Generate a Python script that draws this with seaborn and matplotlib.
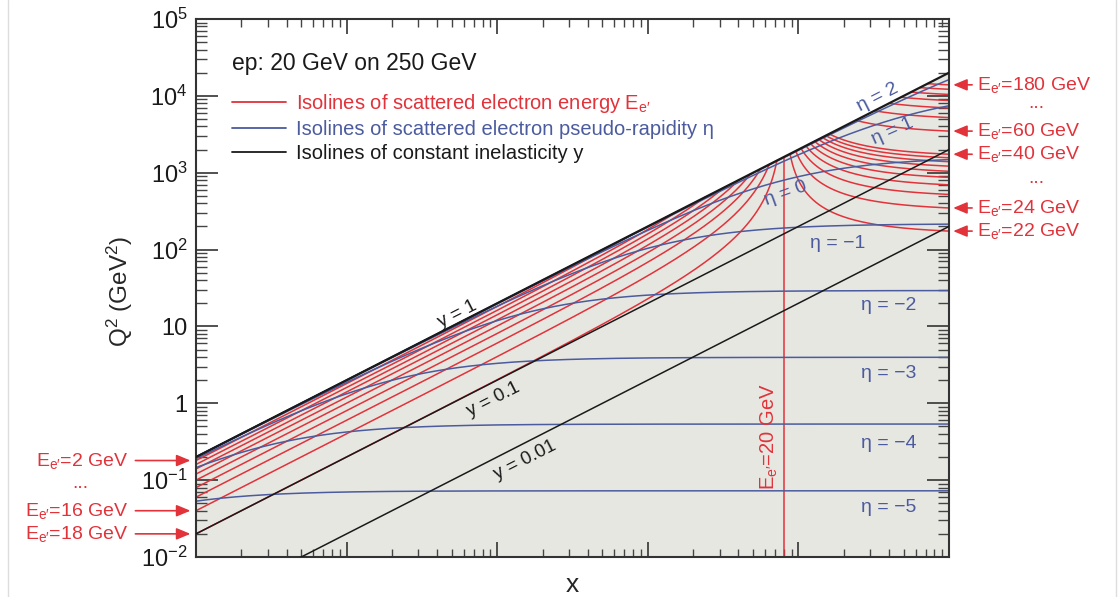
import numpy as np
import pandas as pd
import matplotlib
matplotlib.use("Agg")
import matplotlib.pyplot as plt
import seaborn as sns
from matplotlib.lines import Line2D

# ---- data ----
beam_e = 20.0          # electron beam energy (GeV)
beam_p = 250.0         # proton beam energy (GeV)
x_range = [1e-5, 1.0]
q2_range = [1e-2, 1e5]
e_scat_low = [2, 4, 6, 8, 10, 12, 14, 16, 18]                 # GeV, below beam energy
e_scat_high = [22, 24, 26, 28, 30, 32, 34, 36, 38, 40,
               60, 80, 100, 120, 140, 160, 180]                # GeV, above beam energy
e_scat_mid = 20                                                # vertical isoline
eta_values = [2, 1, 0, -1, -2, -3, -4, -5]
y_values = [1.0, 0.1, 0.01]
y_tick_vals = [1e-2, 1e-1, 1, 10, 1e2, 1e3, 1e4, 1e5]
y_tick_labels = ["10$^{-2}$", "10$^{-1}$", "1", "10", "10$^{2}$", "10$^{3}$", "10$^{4}$", "10$^{5}$"]
right_labels = [180, 60, 40, 24, 22]
left_labels = [2, 16, 18]

RED = "#e2323a"
BLUE = "#4b5b9e"
BLACK = "#1a1a1a"
SHADE = "#e7e7e2"

sns.set_style("ticks")
plt.rcParams["font.family"] = ["Liberation Sans", "DejaVu Sans"]
plt.rcParams["mathtext.fontset"] = "custom"
plt.rcParams["mathtext.rm"] = "Liberation Sans"
plt.rcParams["mathtext.it"] = "Liberation Sans"
plt.rcParams["mathtext.default"] = "regular"

s = 4 * beam_e * beam_p

fig = plt.figure(figsize=(11.2, 5.97), dpi=100)
L, R, T, B = 196, 949, 19, 557
W, H = 1120, 597
ax = fig.add_axes([L / W, 1 - B / H, (R - L) / W, (B - T) / H])
ax.set_xscale("log")
ax.set_yscale("log")
ax.set_xlim(*x_range)
ax.set_ylim(*q2_range)

def pix(px, py):
    return ((px - L) / (R - L), (B - py) / (B - T))

# shaded kinematic region (below y = 1)
xx = np.geomspace(x_range[0], x_range[1], 400)
ax.fill_between(xx, q2_range[0], s * xx, color=SHADE, lw=0, zorder=0)

def line(x, q, color, lw=1.1, z=2):
    sns.lineplot(x=x, y=q, ax=ax, color=color, lw=lw, estimator=None,
                 sort=False, legend=False, zorder=z)

# electron-energy isolines
for ep in e_scat_low:
    x = np.geomspace(x_range[0], ep / beam_p, 800)
    q = 4 * beam_e * (beam_e - ep) / (beam_e / (beam_p * x) - 1)
    q[-1] = 4 * beam_e * ep
    line(x, q, RED)
for ep in e_scat_high:
    x = np.geomspace(ep / beam_p, x_range[1], 800)
    with np.errstate(divide="ignore"):
        q = 4 * beam_e * (ep - beam_e) / (1 - beam_e / (beam_p * x))
    q[0] = 4 * beam_e * ep
    line(x, q, RED)
xv = beam_e / beam_p
line(np.array([xv, xv]), np.array([q2_range[0], 4 * beam_e * e_scat_mid]), RED)

# pseudo-rapidity isolines
for eta in eta_values:
    x = np.geomspace(x_range[0], x_range[1], 800)
    A = 4 * beam_e ** 2 * np.exp(2 * eta)
    q = A / (1 + A / (s * x))
    line(x, q, BLUE)

# inelasticity isolines
for yv in y_values:
    x = np.geomspace(x_range[0], x_range[1], 50)
    line(x, s * x * yv, BLACK, lw=1.6 if yv == 1 else 1.1, z=3)

# axes styling
for sp in ax.spines.values():
    sp.set_linewidth(1.5)
    sp.set_color("#333333")
ax.set_yticks(y_tick_vals)
ax.set_yticklabels(y_tick_labels, fontsize=17)
ax.tick_params(axis="y", which="major", direction="in", length=16, width=1.2,
               left=True, right=True, pad=6, colors="#333333", labelcolor="#1a1a1a")
ax.tick_params(axis="y", which="minor", direction="in", length=8, width=1.0,
               left=True, right=True, colors="#444444")
ax.tick_params(axis="x", which="major", direction="in", length=11, width=1.2,
               bottom=True, top=True, labelbottom=False, colors="#333333")
ax.tick_params(axis="x", which="minor", direction="in", length=6, width=1.0,
               bottom=True, top=True, labelbottom=False, colors="#444444")
ax.yaxis.set_minor_locator(matplotlib.ticker.LogLocator(base=10, subs=np.arange(2, 10), numticks=20))
ax.xaxis.set_minor_locator(matplotlib.ticker.LogLocator(base=10, subs=np.arange(2, 10), numticks=20))
ax.yaxis.set_minor_formatter(matplotlib.ticker.NullFormatter())
ax.set_xlabel("x", fontsize=19)
ax.xaxis.set_label_coords(*pix(572, 585))
ax.xaxis.label.set_va("center")
ax.set_ylabel("Q$^{2}$ (GeV$^{2}$)", fontsize=17.5)
ax.yaxis.set_label_coords(*pix(120, 291))
ax.yaxis.label.set_va("center")

# legend
handles = [Line2D([], [], color=RED, lw=1.3), Line2D([], [], color=BLUE, lw=1.3),
           Line2D([], [], color=BLACK, lw=1.3)]
labels = ["Isolines of scattered electron energy E$_{e\u2032}$",
          "Isolines of scattered electron pseudo-rapidity \u03b7",
          "Isolines of constant inelasticity y"]
leg = ax.legend(handles, labels, title="ep: 20 GeV on 250 GeV", loc="upper left",
                bbox_to_anchor=pix(232, 52), frameon=False, fontsize=14.5,
                title_fontsize=16.5, alignment="left", labelcolor="linecolor",
                handlelength=2.7, handletextpad=0.5, labelspacing=0.25,
                borderpad=0, borderaxespad=0)
leg.get_title().set_color(BLACK)
leg._legend_box.sep = 12

# line labels
def lab(txt, px, py, rot, color, size=14):
    fx, fy = pix(px, py)
    ax.text(fx, fy, txt, transform=ax.transAxes, rotation=rot, color=color,
            fontsize=size, ha="center", va="center", rotation_mode="anchor", zorder=5)

lab("y = 1", 457, 314, 27, BLACK, 13.5)
lab("y = 0.1", 493, 400, 27, BLACK, 13.5)
lab("y = 0.01", 525, 460, 27, BLACK, 13.5)
lab("\u03b7 = 2", 878, 97, 27, BLUE)
lab("\u03b7 = 1", 893, 131, 24, BLUE)
lab("\u03b7 = 0", 786, 193, 20, BLUE)
lab("\u03b7 = \u22121", 838, 243, 0, BLUE)
lab("\u03b7 = \u22122", 889, 306, 0, BLUE)
lab("\u03b7 = \u22123", 889, 373, 0, BLUE)
lab("\u03b7 = \u22124", 889, 443, 0, BLUE)
lab("\u03b7 = \u22125", 889, 508, 0, BLUE)
lab("E$_{e\u2032}$=20 GeV", 769, 437, 90, RED, 14.5)

# side annotations
for ep in right_labels:
    q = 4 * beam_e * (ep - beam_e) / (1 - beam_e / beam_p)
    ax.annotate(f"E$_{{e\u2032}}$={ep} GeV", xy=(1.0, q), xycoords="data",
                xytext=(20, 0), textcoords="offset points", ha="left", va="center",
                color=RED, fontsize=14, annotation_clip=False,
                arrowprops=dict(arrowstyle="-|>,head_length=0.6,head_width=0.25",
                                color=RED, lw=1.2, shrinkA=1, shrinkB=3))
for ep in left_labels:
    q = 4 * beam_e * (beam_e - ep) / (beam_e / (beam_p * x_range[0]) - 1)
    ax.annotate(f"E$_{{e\u2032}}$={ep} GeV", xy=(x_range[0], q), xycoords="data",
                xytext=(-49, 0), textcoords="offset points", ha="right", va="center",
                color=RED, fontsize=14, annotation_clip=False,
                arrowprops=dict(arrowstyle="-|>,head_length=0.6,head_width=0.25",
                                color=RED, lw=1.2, shrinkA=3, shrinkB=4))
for (px, py) in [(1036, 104), (1036, 179), (80, 484)]:
    fig.text(px / W, 1 - py / H, "...", color=RED, fontsize=14, ha="center", va="center")

# faint frame lines of the original page
fig.add_artist(Line2D([8 / W, 8 / W], [0, 1], color="#dddddd", lw=1))
fig.add_artist(Line2D([1116 / W, 1116 / W], [0, 1], color="#dddddd", lw=1))

fig.savefig("out.png", dpi=100)
